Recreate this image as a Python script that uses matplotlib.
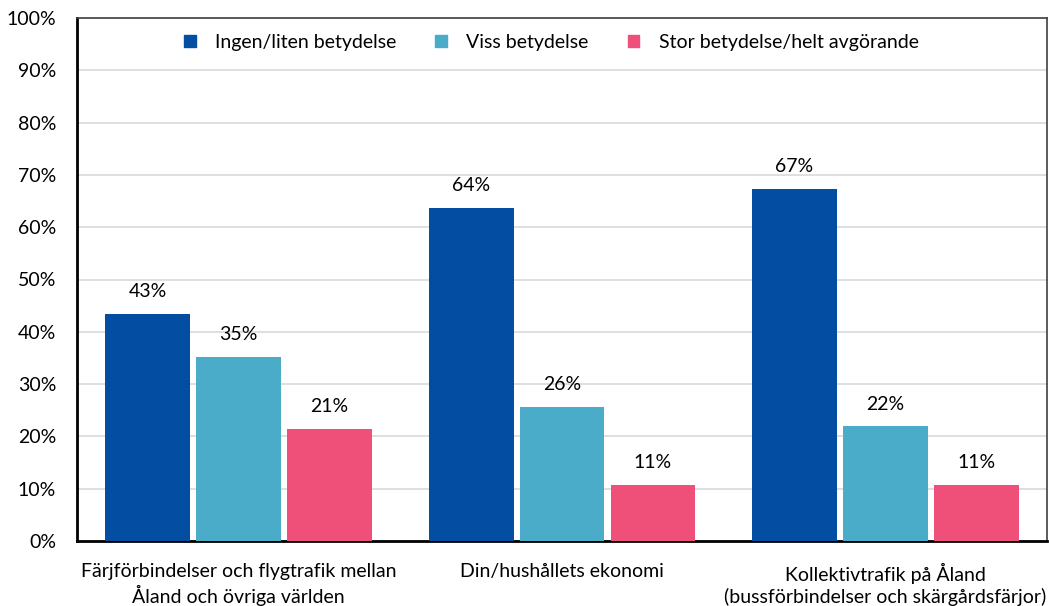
import numpy as np
import matplotlib.pyplot as plt
from matplotlib.patches import Patch

plt.rcParams['font.family'] = ['Lato', 'DejaVu Sans']

categories = ["Färjförbindelser och flygtrafik mellan\nÅland och övriga världen",
              "Din/hushållets ekonomi",
              "Kollektivtrafik på Åland\n(bussförbindelser och skärgårdsfärjor)"]
series_names = ["Ingen/liten betydelse", "Viss betydelse", "Stor betydelse/helt avgörande"]
ingen = [43.4, 63.6, 67.3]
viss = [35.2, 25.6, 21.9]
stor = [21.4, 10.7, 10.7]
labels = [["43%", "64%", "67%"], ["35%", "26%", "22%"], ["21%", "11%", "11%"]]
colors = ["#034EA2", "#4BACCA", "#EF5079"]

fig = plt.figure(figsize=(10.49, 6.06), dpi=100)
ax = fig.add_axes([77 / 1049, 65 / 606, 970 / 1049, 523 / 606])

x = np.arange(len(categories))
w = 0.262
step = 0.281
for k, vals in enumerate([ingen, viss, stor]):
    pos = x + (k - 1) * step
    ax.bar(pos, vals, width=w, color=colors[k], zorder=3)
    for p, v, lab in zip(pos, vals, labels[k]):
        ax.annotate(lab, (p, v), xytext=(0, 10), textcoords="offset points",
                    ha="center", va="bottom", fontsize=14)

ax.set_xlim(-0.5, 2.5)
ax.set_ylim(0, 100)
ax.set_yticks(np.arange(0, 101, 10))
ax.set_yticklabels([f"{t}%" for t in range(0, 101, 10)], fontsize=14)
ax.yaxis.grid(True, color="#D9D9D9", linewidth=1.2, zorder=0)
ax.set_xticks(x)
ax.set_xticklabels(categories, fontsize=14, linespacing=1.25)
ax.tick_params(axis="x", length=0, pad=16)
ax.tick_params(axis="y", length=0, pad=15)

for s in ["left", "bottom"]:
    ax.spines[s].set_linewidth(2)
    ax.spines[s].set_color("black")
for s in ["top", "right"]:
    ax.spines[s].set_linewidth(1.2)
    ax.spines[s].set_color("#404040")

handles = [Patch(color=c) for c in colors]
ax.legend(handles, series_names, loc="upper center", bbox_to_anchor=(0.489, 1.0),
          ncol=3, frameon=False, fontsize=14, handlelength=0.6, handleheight=0.6,
          columnspacing=2.0, handletextpad=1.0, borderaxespad=0.4)

fig.savefig("out.png", dpi=100)
